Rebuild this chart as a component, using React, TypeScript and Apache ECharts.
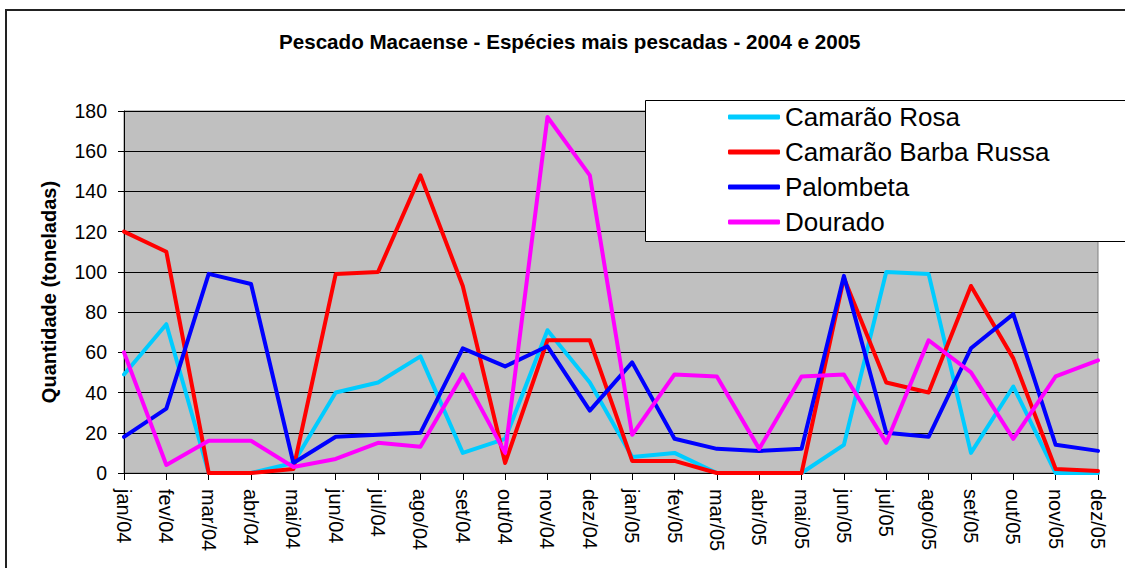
import React, { useEffect, useRef } from "react";
import * as echarts from "echarts";

const categories = [
  "jan/04", "fev/04", "mar/04", "abr/04", "mai/04", "jun/04", "jul/04", "ago/04", "set/04", "out/04", "nov/04", "dez/04",
  "jan/05", "fev/05", "mar/05", "abr/05", "mai/05", "jun/05", "jul/05", "ago/05", "set/05", "out/05", "nov/05", "dez/05",
];
const camaraoRosa = [49, 74, 0, 0, 5, 40, 45, 58, 10, 17, 71, 45, 8, 10, 0, 0, 0, 14, 100, 99, 10, 43, 0, 0];
const camaraoBarbaRussa = [120, 110, 0, 0, 2, 99, 100, 148, 93, 5, 66, 66, 6, 6, 0, 0, 0, 97, 45, 40, 93, 57, 2, 1];
const palombeta = [18, 32, 99, 94, 5, 18, 19, 20, 62, 53, 63, 31, 55, 17, 12, 11, 12, 98, 20, 18, 62, 79, 14, 11];
const dourado = [60, 4, 16, 16, 3, 7, 15, 13, 49, 10, 177, 148, 19, 49, 48, 12, 48, 49, 15, 66, 50, 17, 48, 56];

const seriesDefs = [
  { name: "Camarão Rosa", data: camaraoRosa, color: "#00CCFF" },
  { name: "Camarão Barba Russa", data: camaraoBarbaRussa, color: "#FF0000" },
  { name: "Palombeta", data: palombeta, color: "#0000FF" },
  { name: "Dourado", data: dourado, color: "#FF00FF" },
];

const FONT = "Liberation Sans, Arial, sans-serif";

export default function App() {
  const ref = useRef<HTMLDivElement>(null);
  useEffect(() => {
    document.body.style.margin = "0";
    const chart = echarts.init(ref.current!, null, { renderer: "svg" });
    chart.setOption({
      animation: false,
      backgroundColor: "#ffffff",
      title: {
        text: "Pescado Macaense - Espécies mais pescadas - 2004 e 2005",
        left: 279,
        top: 31,
        padding: 0,
        textStyle: { fontFamily: FONT, fontSize: 20.6, fontWeight: "bold", color: "#000" },
      },
      graphic: [
        {
          type: "rect",
          shape: { x: 6, y: 10, width: 1300, height: 700 },
          style: { fill: "none", stroke: "#222", lineWidth: 2 },
          z: 0,
        },
        {
          type: "rect",
          shape: { x: 645.5, y: 100.5, width: 600, height: 141 },
          style: { fill: "#ffffff", stroke: "#000", lineWidth: 1 },
          z: 10,
        },
      ],
      legend: {
        orient: "vertical",
        left: 728,
        top: 104,
        padding: 0,
        icon: "roundRect",
        itemWidth: 52,
        itemHeight: 5,
        itemGap: 9,
        z: 11,
        textStyle: { fontFamily: FONT, fontSize: 26, color: "#000" },
        data: seriesDefs.map((s) => s.name),
      },
      grid: {
        left: 124,
        right: 27,
        top: 111,
        bottom: 95,
        show: true,
        backgroundColor: "#C0C0C0",
        borderColor: "#808080",
        borderWidth: 1,
      },
      xAxis: {
        type: "category",
        data: categories,
        boundaryGap: false,
        axisLine: { lineStyle: { color: "#000", width: 1 } },
        axisTick: { show: true, length: 7, lineStyle: { color: "#000" } },
        axisLabel: {
          rotate: -90,
          interval: 0,
          margin: 16,
          fontFamily: FONT,
          fontSize: 20,
          color: "#000",
        },
      },
      yAxis: {
        type: "value",
        min: 0,
        max: 180,
        interval: 20,
        name: "Quantidade (toneladas)",
        nameLocation: "middle",
        nameGap: 65,
        nameTextStyle: { fontFamily: FONT, fontSize: 20, fontWeight: "bold", color: "#000" },
        axisLine: { show: true, lineStyle: { color: "#000", width: 1 } },
        axisTick: { show: true, length: 6, lineStyle: { color: "#000" } },
        axisLabel: { margin: 17, fontFamily: FONT, fontSize: 19.5, color: "#000" },
        splitLine: { show: true, lineStyle: { color: "#000", width: 1 } },
      },
      series: seriesDefs.map((s) => ({
        name: s.name,
        type: "line",
        data: s.data,
        symbol: "none",
        showSymbol: false,
        color: s.color,
        itemStyle: { color: s.color },
        lineStyle: { color: s.color, width: 4, cap: "round", join: "round" },
      })),
    });
    return () => chart.dispose();
  }, []);
  return <div ref={ref} style={{ width: 1125, height: 568 }} />;
}
